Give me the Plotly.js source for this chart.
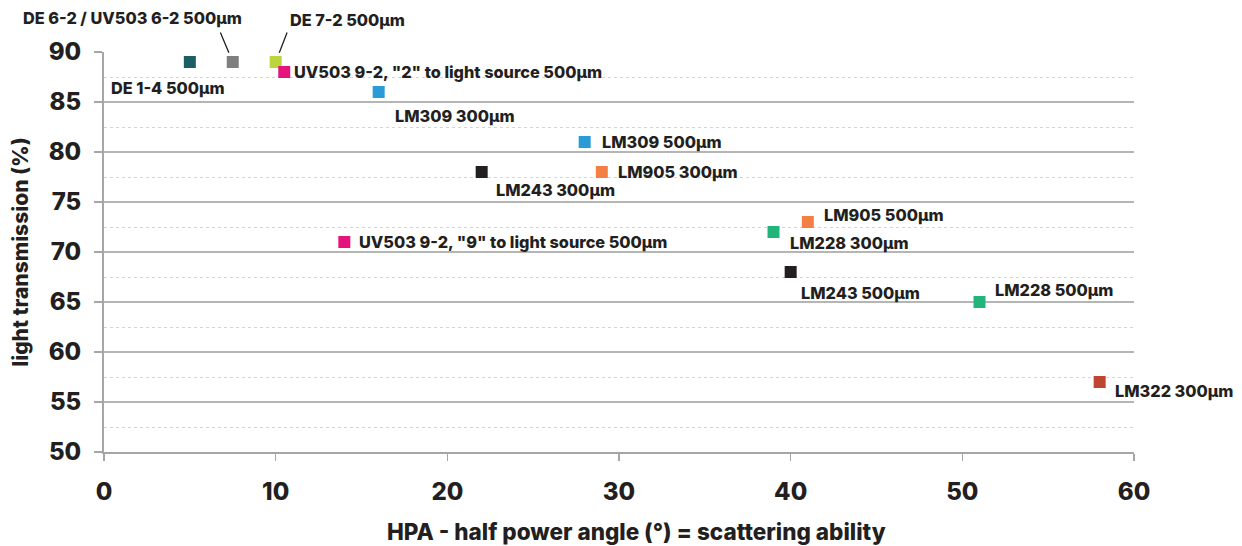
<!DOCTYPE html>
<html>
<head>
<meta charset="utf-8">
<script src="https://cdn.plot.ly/plotly-3.0.1.min.js"></script>
<style>html,body{margin:0;padding:0;background:#fff;}#chart{width:1242px;height:546px;}</style>
</head>
<body>
<div id="chart"></div>
<script>
// ---- data ----
const names = [
  'DE 1-4 500µm',
  'DE 6-2 / UV503 6-2 500µm',
  'DE 7-2 500µm',
  'UV503 9-2, "2" to light source 500µm',
  'LM309 300µm',
  'LM309 500µm',
  'LM905 300µm',
  'LM243 300µm',
  'UV503 9-2, "9" to light source 500µm',
  'LM905 500µm',
  'LM228 300µm',
  'LM243 500µm',
  'LM228 500µm',
  'LM322 300µm'
];
const hpa = [5, 7.5, 10, 10.5, 16, 28, 29, 22, 14, 41, 39, 40, 51, 58];
const transmission = [89, 89, 89, 88, 86, 81, 78, 78, 71, 73, 72, 68, 65, 57];
const xTicks = [0, 10, 20, 30, 40, 50, 60];
const yTicks = [50, 55, 60, 65, 70, 75, 80, 85, 90];

// ---- styles ----
const colors = ['#1b5e63', '#7f7f7f', '#bdd53c', '#e5147d', '#2a9bd6', '#2a9bd6',
  '#f47f45', '#231f20', '#e5147d', '#f47f45', '#21b57b', '#231f20', '#21b57b', '#c0452f'];
// label placement (pixel offsets from the point): [xanchor, xshift, yshift]
const labelPos = [
  ['center', -22, -26],
  ['center', -100, 44],
  ['center', 72, 42],
  ['left', 8, 0],
  ['left', 14, -24],
  ['left', 15, 0],
  ['left', 14, 0],
  ['left', 12, -18],
  ['left', 13, 0],
  ['left', 14, 7],
  ['left', 14, -11],
  ['left', 8, -21],
  ['left', 13, 12],
  ['left', 13, -9]
];
// leader lines: index -> [ax, ay]
const leaders = {1: [-13, -31], 2: [12, -31]};

const FONT = 'Inter, "Liberation Sans", Arial, sans-serif';
const DARK = '#231f20';
const AXIS = '#a6a6a6';
const W = 800;

const trace = {
  type: 'scatter', mode: 'markers',
  x: hpa, y: transmission, text: names,
  marker: {symbol: 'square', size: 12, color: colors, line: {width: 0}},
  cliponaxis: false, hoverinfo: 'text+x+y'
};

const annotations = names.map((n, i) => ({
  x: hpa[i], y: transmission[i], xref: 'x', yref: 'y',
  text: n, showarrow: false,
  xanchor: labelPos[i][0], yanchor: 'middle',
  xshift: labelPos[i][1], yshift: labelPos[i][2],
  font: {family: FONT, size: 16.3, color: DARK, weight: W}
}));
Object.keys(leaders).forEach(k => {
  const i = +k;
  annotations.push({
    x: hpa[i], y: transmission[i], xref: 'x', yref: 'y',
    text: '', showarrow: true, arrowhead: 0, arrowwidth: 1.3, arrowcolor: DARK,
    ax: leaders[k][0], ay: leaders[k][1], standoff: 10
  });
});
annotations.push({
  xref: 'paper', yref: 'paper', x: 0.517, y: 0, yshift: -79, xanchor: 'center', yanchor: 'middle',
  showarrow: false, text: 'HPA - half power angle (°) = scattering ability',
  font: {family: FONT, size: 22.5, color: DARK, weight: W}
});

const layout = {
  width: 1242, height: 546,
  margin: {l: 104, r: 108, t: 52, b: 94},
  paper_bgcolor: '#fff', plot_bgcolor: '#fff',
  showlegend: false,
  font: {family: FONT, color: DARK},
  xaxis: {
    range: [0, 60], tickvals: xTicks, ticktext: xTicks.map(String),
    showgrid: false, zeroline: false, showline: true, linecolor: AXIS, linewidth: 2,
    ticks: 'outside', ticklen: 7, tickwidth: 1.5, tickcolor: AXIS,
    tickfont: {family: FONT, size: 24, color: DARK, weight: W}, ticklabelstandoff: 10
  },
  yaxis: {
    range: [50, 90], tickvals: yTicks, ticktext: yTicks.map(String),
    showgrid: true, gridcolor: '#b5b5b5', gridwidth: 1.5,
    zeroline: false, showline: true, linecolor: AXIS, linewidth: 2,
    ticks: 'outside', ticklen: 8, tickwidth: 1.5, tickcolor: AXIS,
    tickfont: {family: FONT, size: 24, color: DARK, weight: W}, ticklabelstandoff: 8,
    minor: {dtick: 2.5, tick0: 50, showgrid: true, gridcolor: '#d4d4d4', griddash: 'dot', gridwidth: 1, ticks: ''},
    title: {text: 'light transmission (%)', font: {family: FONT, size: 21, color: DARK, weight: W}, standoff: 14}
  },
  annotations: annotations
};

Plotly.newPlot('chart', [trace], layout, {staticPlot: true, displayModeBar: false});
</script>
</body>
</html>
